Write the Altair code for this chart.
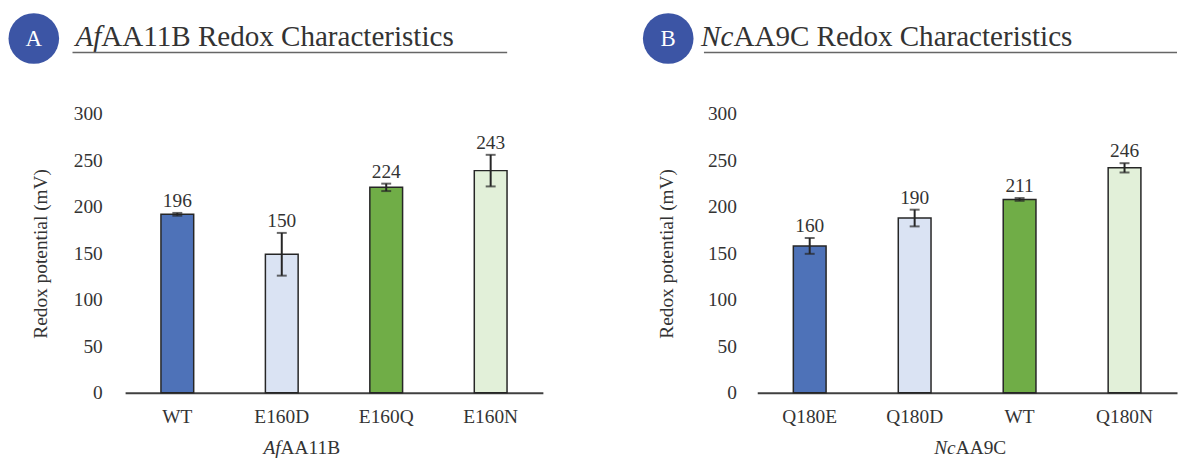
import altair as alt
import pandas as pd

# ---- data ----
af_names = ["WT", "E160D", "E160Q", "E160N"]
af_values = [192, 149, 221, 239]
af_errors = [1.5, 23, 4, 17]
af_labels = ["196", "150", "224", "243"]

nc_names = ["Q180E", "Q180D", "WT", "Q180N"]
nc_values = [158, 188, 208, 242]
nc_errors = [8.5, 9, 1.5, 5]
nc_labels = ["160", "190", "211", "246"]

bar_colors = ["#4E72B8", "#DAE3F3", "#70AD47", "#E2F0D9"]

FONT = "Liberation Serif"
TXT = "#333333"
FS = 19.5
H = 281


def panel(names, values, errors, labels, width, letter, ital, rest, xt_ital, xt_rest,
          circ_x, split_x, ul_x1, ul_x2, xt_split, lab_pad, title_pad):
    df = pd.DataFrame({"name": names, "v": values, "e": errors, "lab": labels})
    df["lo"] = df["v"] - df["e"]
    df["hi"] = df["v"] + df["e"]

    x = alt.X("name:N", sort=names,
              scale=alt.Scale(paddingInner=0, paddingOuter=0),
              axis=alt.Axis(title=None, labelAngle=0, ticks=False, domainColor="#404040",
                            domainWidth=2, labelFont=FONT, labelFontSize=FS,
                            labelColor=TXT, labelPadding=15))
    y = alt.Y("v:Q", scale=alt.Scale(domain=[0, 300]),
              axis=alt.Axis(values=[0, 50, 100, 150, 200, 250, 300], domain=False,
                            ticks=False, grid=False, labelFont=FONT, labelFontSize=FS,
                            labelColor=TXT, labelPadding=lab_pad,
                            title="Redox potential (mV)", titleFont=FONT,
                            titleFontSize=FS, titleFontWeight="normal",
                            titleColor=TXT, titlePadding=title_pad))

    base = alt.Chart(df)
    bars = base.mark_bar(size=33, stroke="#262626", strokeWidth=1.5).encode(
        x=x, y=y,
        color=alt.Color("name:N", scale=alt.Scale(domain=names, range=bar_colors), legend=None))
    rule = base.mark_rule(color="#262626", strokeWidth=2).encode(
        x=alt.X("name:N", sort=names), y="lo:Q", y2="hi:Q")
    cap_lo = base.mark_tick(color="#262626", thickness=2, size=10).encode(
        x=alt.X("name:N", sort=names), y="lo:Q")
    cap_hi = base.mark_tick(color="#262626", thickness=2, size=10).encode(
        x=alt.X("name:N", sort=names), y="hi:Q")
    text = base.mark_text(font=FONT, fontSize=FS, color=TXT, baseline="alphabetic",
                          dy=-6).encode(
        x=alt.X("name:N", sort=names), y="hi:Q", text="lab:N")

    one = pd.DataFrame({"k": [0]})
    hd = alt.Chart(one)
    circle = hd.mark_point(shape="circle", filled=True, size=2601, color="#3C55A5",
                           opacity=1).encode(x=alt.value(circ_x), y=alt.value(-76))
    circ_txt = hd.mark_text(text=letter, font=FONT, fontSize=23, color="white",
                            baseline="middle", align="center", dy=1).encode(
        x=alt.value(circ_x), y=alt.value(-76))
    t_it = hd.mark_text(text=ital, font=FONT, fontSize=29.3, fontStyle="italic", color=TXT,
                        baseline="alphabetic", align="right").encode(
        x=alt.value(split_x), y=alt.value(-68.7))
    t_rest = hd.mark_text(text=rest, font=FONT, fontSize=29.3, color=TXT,
                          baseline="alphabetic", align="left").encode(
        x=alt.value(split_x), y=alt.value(-68.7))
    uline = hd.mark_rule(color="#666666", strokeWidth=1.5).encode(
        x=alt.value(ul_x1), x2=alt.value(ul_x2), y=alt.value(-62))
    xt_it = hd.mark_text(text=xt_ital, font=FONT, fontSize=FS, fontStyle="italic",
                         color=TXT, baseline="alphabetic", align="right").encode(
        x=alt.value(xt_split), y=alt.value(343))
    xt_r = hd.mark_text(text=xt_rest, font=FONT, fontSize=FS, color=TXT,
                        baseline="alphabetic", align="left").encode(
        x=alt.value(xt_split), y=alt.value(343))

    return alt.layer(bars, rule, cap_lo, cap_hi, text, circle, circ_txt, t_it, t_rest,
                     uline, xt_it, xt_r).properties(width=width, height=H)


left = panel(af_names, af_values, af_errors, af_labels, 421, "A", "Af",
             "AA11B Redox Characteristics", "Af", "AA11B",
             circ_x=-92, split_x=-24, ul_x1=-53, ul_x2=385, xt_split=156.7,
             lab_pad=23, title_pad=23)
right = panel(nc_names, nc_values, nc_errors, nc_labels, 423, "B", "Nc",
              "AA9C Redox Characteristics", "Nc", "AA9C",
              circ_x=-89.7, split_x=-24, ul_x1=-53.7, ul_x2=423, xt_split=200,
              lab_pad=21, title_pad=31)

chart = alt.hconcat(left, right, spacing=216, bounds="flush").resolve_scale(
    color="independent").properties(
    padding={"left": 0, "top": 3, "right": 0, "bottom": 0},
    background="white",
).configure(font=FONT).configure_view(stroke=None)

chart.save("out.html", embed_options={"renderer": "svg", "actions": False})
